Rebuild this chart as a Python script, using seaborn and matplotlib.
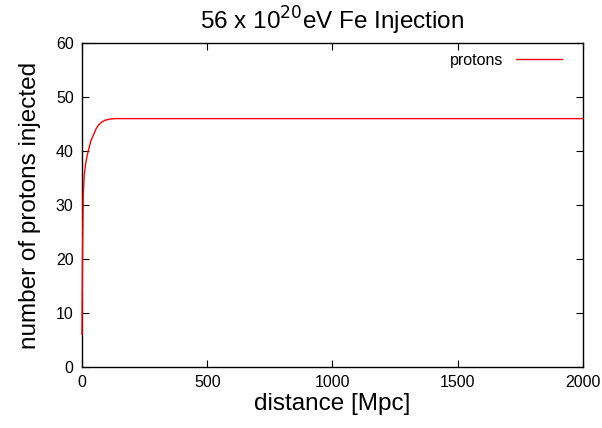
import matplotlib
matplotlib.use("Agg")
import matplotlib.pyplot as plt
import seaborn as sns
import pandas as pd

distance = [0, 1, 2, 5, 9, 14, 20, 26, 35, 46, 56, 66, 80, 93, 110, 132, 160, 200, 500, 1000, 2000]
protons = [6, 13, 20, 32, 35.5, 37.5, 39, 40.2, 41.8, 43, 44.1, 44.8, 45.4, 45.7, 45.9, 46, 46, 46, 46, 46, 46]
xticks = [0, 500, 1000, 1500, 2000]
yticks = [0, 10, 20, 30, 40, 50, 60]

sns.set_style("ticks")
plt.rcParams['font.family'] = ['Liberation Sans', 'DejaVu Sans']
plt.rcParams['text.color'] = 'black'
plt.rcParams['axes.labelcolor'] = 'black'

df = pd.DataFrame({"distance": distance, "protons": protons})

fig = plt.figure(figsize=(6.02, 4.28), dpi=100)
ax = fig.add_axes([0.1362, 0.1425, 0.8322, 0.757])
sns.lineplot(data=df, x="distance", y="protons", color="#ff0000", linewidth=1.0,
             label="protons", ax=ax)
ax.lines[0].set_clip_on(False)
ax.lines[0].set_zorder(3)
ax.set_xlim(0, 2000)
ax.set_ylim(0, 60)
ax.set_xticks(xticks)
ax.set_yticks(yticks)
ax.tick_params(direction="in", top=True, right=True, labelsize=11.5, length=5,
               width=0.8, colors="black", pad=6)
for s in ax.spines.values():
    s.set_linewidth(1.0)
    s.set_color("black")
ax.set_xlabel("distance [Mpc]", fontsize=17.5, labelpad=2, color="black")
ax.set_ylabel("number of protons injected", fontsize=17.5, labelpad=11, color="black")
ax.set_title(r"56 x 10$^{20}$eV Fe Injection", fontsize=17.5, pad=10, color="black")
leg = ax.legend(loc="upper right", frameon=False, fontsize=11.5, markerfirst=False,
                handlelength=2.9, borderaxespad=0, bbox_to_anchor=(0.971, 0.99))
for t in leg.get_texts():
    t.set_color("black")
fig.savefig("out.png", dpi=100)
